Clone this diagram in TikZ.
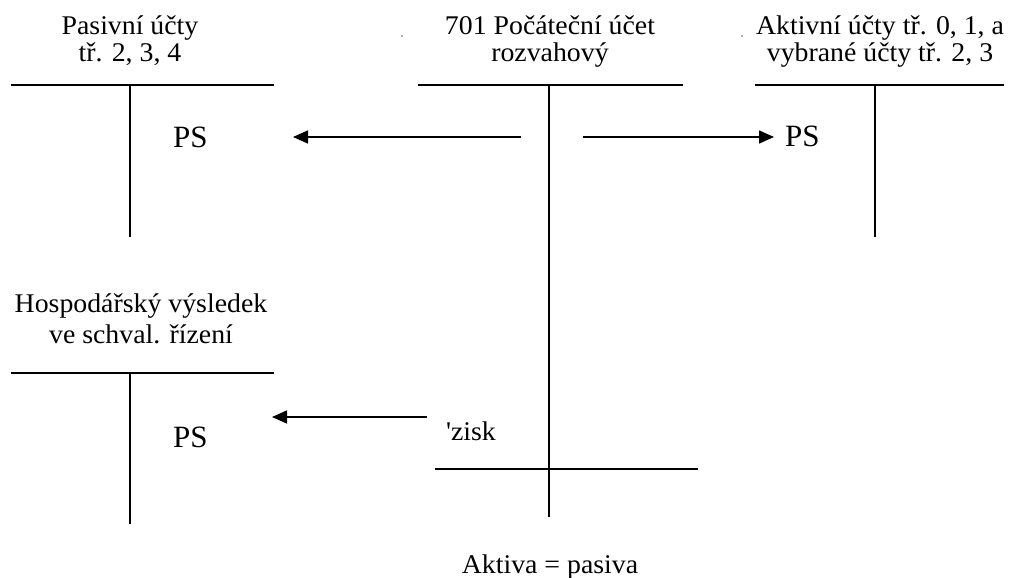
\documentclass[tikz,border=0pt]{standalone}
\usepackage{fontspec}
\setmainfont{Liberation Serif}[FakeStretch=1.03]
\newfontfamily\psfont{Liberation Serif}
\usetikzlibrary{arrows.meta}
\begin{document}
\begin{tikzpicture}[x=1pt,y=-1pt,
  acct/.style={line width=1.6pt},
  flow/.style={line width=1.6pt,-{Triangle[length=15pt,width=13pt]}},
  lbl/.style={anchor=base,inner sep=0pt,font=\fontsize{27}{32}\selectfont},
  pslbl/.style={anchor=base west,inner sep=0pt,font=\psfont\fontsize{31}{36}\selectfont},
  speck/.style={fill=black!60,draw=none}]
\useasboundingbox (0,0) rectangle (1009,578);

% account headings
\node[lbl] (pas1) at (130,35) {Pasivní účty};
\node[lbl] (pas2) at (130,62) {tř. 2, 3, 4};
\node[lbl] (poc1) at (550,35) {701 Počáteční účet};
\node[lbl] (poc2) at (550,62) {rozvahový};
\node[lbl] (akt1) at (880,35) {Aktivní účty tř. 0, 1, a};
\node[lbl] (akt2) at (880,62) {vybrané účty tř. 2, 3};
\node[lbl] (hv1) at (141,312) {Hospodářský výsledek};
\node[lbl] (hv2) at (141,343) {ve schval. řízení};
\node[lbl] (bil) at (550,573) {Aktiva = pasiva};

% T-accounts
\draw[acct] (11,85) -- (274,85) (130,85) -- (130,237);
\draw[acct] (418,85) -- (683,85) (549,85) -- (549,517);
\draw[acct] (755,85) -- (1004,85) (875,85) -- (875,237);
\draw[acct] (11,373) -- (274,373) (130,373) -- (130,524);
\draw[acct] (435,469) -- (698,469);

% opening balances
\node[pslbl] (ps1) at (173,147) {PS};
\node[pslbl] (ps2) at (785,146) {PS};
\node[pslbl] (ps3) at (173,447) {PS};
\node[anchor=base west,inner sep=0pt,font=\fontsize{27}{32}\selectfont] (zisk) at (446,440) {\textquotesingle zisk};

% transfers
\coordinate (f1s) at (521,137);
\coordinate (f1e) at (293,137);
\coordinate (f2s) at (583,137);
\coordinate (f2e) at (774,137);
\coordinate (f3s) at (427,417);
\coordinate (f3e) at (272,417);
\draw[flow] (f1s) -- (f1e);
\draw[flow] (f2s) -- (f2e);
\draw[flow] (f3s) -- (f3e);

% stray marks
\fill[speck] (402,36) circle (0.8);
\fill[speck] (742,36) circle (0.8);
\end{tikzpicture}
\end{document}
